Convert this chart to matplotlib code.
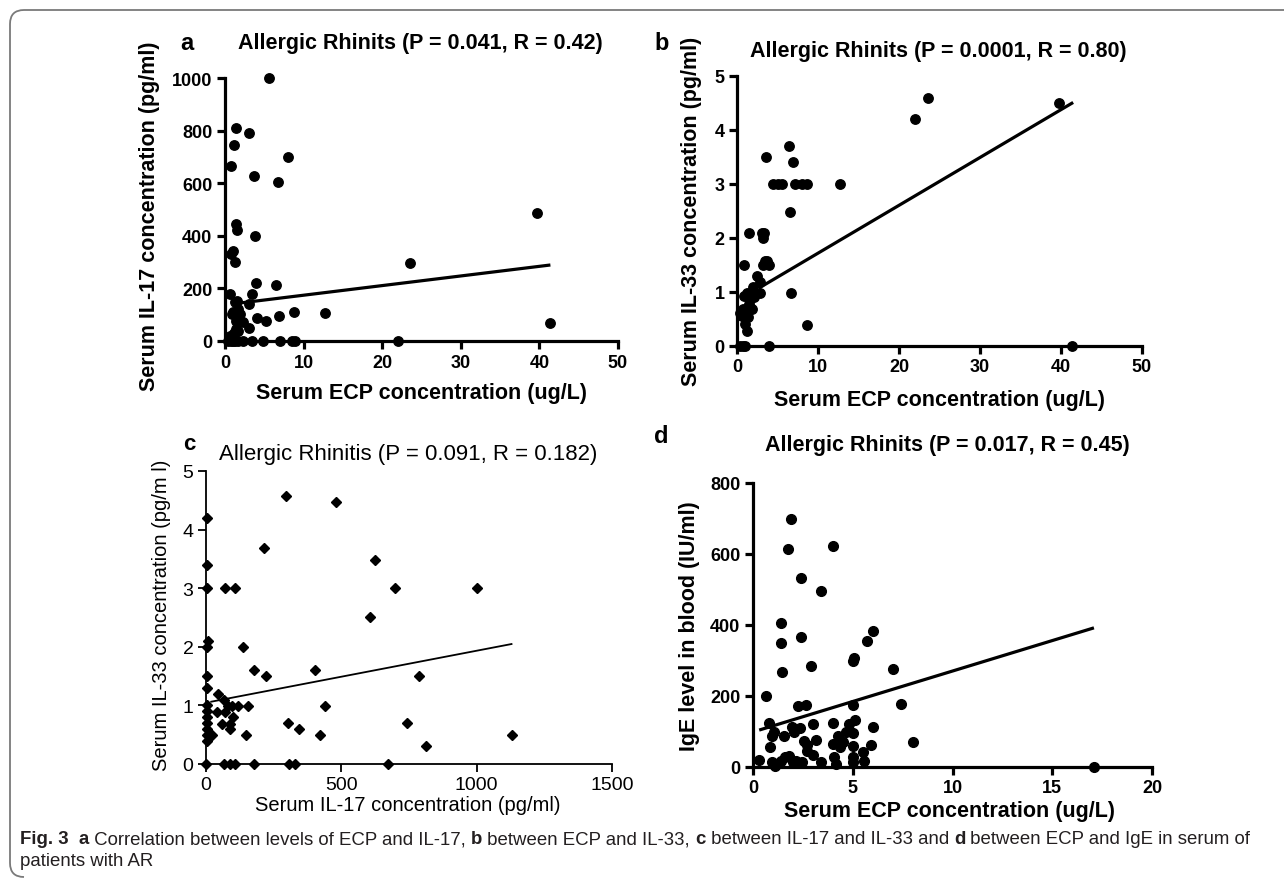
import numpy as np
import matplotlib.pyplot as plt
from matplotlib.path import Path
from matplotlib.patches import PathPatch

W, H = 1284, 879

# ---- panel a: serum ECP (ug/L) vs IL-17 (pg/ml)
a_ecp = [5.6, 1.4, 3.0, 1.1, 8.0, 0.7, 3.7, 6.8, 39.7, 1.35, 1.5, 3.8, 1.05, 0.75, 1.25, 23.6, 4.0, 6.5, 41.4,
         0.6, 3.4, 1.3, 1.0, 1.9, 2.3, 1.4, 3.1, 1.4, 1.1, 4.1, 5.2, 6.9, 8.8, 12.7, 1.5, 0.85, 1.7, 0.6, 1.6, 3.1,
         0.4, 0.7, 1.0, 1.3, 1.7, 2.3, 3.4, 4.8, 7.0, 8.5, 8.9, 22.0]
a_il17 = [1000, 811, 789, 745, 698, 666, 628, 605, 485, 444, 423, 401, 341, 330, 302, 298, 221, 212, 67,
          179, 179, 148, 110, 103, 72, 76, 49, 46, 30, 87, 76, 95, 110, 106, 152, 102, 120, 19, 38, 140,
          0, 0, 0, 0, 0, 0, 0, 0, 0, 0, 0, 0]
a_fit = (3.66, 137.5)          # slope, intercept
a_fit_x = (1.5, 41.4)

# ---- panel b: serum ECP vs IL-33 (pg/ml)
b_ecp = [23.6, 39.7, 22.0, 6.4, 6.9, 3.6, 4.5, 5.0, 5.5, 7.1, 8.0, 8.6, 12.7,
         6.6, 1.5, 3.05, 3.3, 3.25, 0.86, 3.46, 3.9, 3.2, 3.7, 2.43, 2.84, 2.0, 2.84, 6.7, 8.7,
         1.2, 1.7, 1.6, 1.8, 0.78, 0.58, 0.99, 1.4, 0.99, 1.2, 0.37, 1.5, 1.3, 0.9, 2.1, 1.0,
         0.4, 0.7, 1.0, 4.0, 41.4]
b_il33 = [4.59, 4.50, 4.20, 3.70, 3.40, 3.50, 3.0, 3.0, 3.0, 3.0, 3.0, 3.0, 3.0,
          2.49, 2.09, 2.09, 2.09, 2.0, 1.5, 1.58, 1.5, 1.5, 1.58, 1.29, 1.18, 1.09, 0.99, 0.99, 0.39,
          0.99, 0.98, 0.87, 0.69, 0.69, 0.56, 0.53, 0.53, 0.41, 0.28, 0.62, 0.78, 0.9, 0.92, 0.9, 0.6,
          0, 0, 0, 0, 0]
b_fit = (0.0886, 0.833)
b_fit_x = (2.67, 41.5)

# ---- panel c: serum IL-17 vs IL-33
c_il17 = [296, 480, 213, 625, 697, 1000, 605, 138, 178, 221, 401, 787, 1129, 813, 744, 440, 421, 303, 342,
          147, 154, 71, 108, 46, 42, 58, 68, 82, 88, 101, 95, 118, 22, 72, 88,
          5, 5, 5, 8, 5, 5, 5, 5, 5, 5, 5, 5, 5, 5,
          0, 66, 88, 108, 178, 305, 329, 671]
c_il33 = [4.57, 4.47, 3.69, 3.48, 3.0, 3.0, 2.51, 2.0, 1.6, 1.51, 1.6, 1.51, 0.5, 0.31, 0.70, 0.99, 0.5, 0.70, 0.60,
          0.5, 0.99, 3.0, 3.0, 1.2, 0.89, 0.68, 1.09, 0.99, 0.6, 0.8, 0.99, 0.99, 0.5, 0.89, 0.69,
          4.2, 3.4, 3.0, 2.1, 2.0, 1.5, 1.3, 1.0, 0.9, 0.8, 0.7, 0.6, 0.5, 0.4,
          0, 0, 0, 0, 0, 0, 0, 0]
c_fit = (0.000887, 1.046)
c_fit_x = (16, 1132)

# ---- panel d: serum ECP vs IgE (IU/ml)
d_ecp = [1.89, 1.76, 3.99, 2.39, 3.4, 1.38, 1.38, 2.39, 1.47, 2.9, 5.7, 6.0, 5.0, 5.07, 7.0, 0.67, 7.43,
         2.28, 2.68, 5.0, 0.79, 8.02, 6.03, 3.99, 3.0, 1.94, 2.37, 2.07, 4.82, 5.13, 1.04, 1.53, 0.94, 0.86,
         2.57, 2.7, 3.17, 3.99, 4.28, 4.5, 4.37, 4.68, 5.0, 5.0, 5.9, 5.49, 0.31, 0.94, 1.17, 1.4, 1.62, 1.8,
         2.16, 2.48, 2.7, 2.99, 3.42, 4.06, 4.14, 5.0, 5.0, 5.54, 1.98, 1.08, 17.09]
d_ige = [699, 614, 622, 532, 495, 407, 348, 365, 268, 285, 355, 384, 299, 306, 276, 201, 177,
         171, 174, 175, 124, 70, 112, 125, 121, 114, 111, 99, 122, 131, 99, 87, 86, 57,
         73, 61, 75, 66, 86, 71, 56, 99, 96, 58, 63, 41, 20, 13, 8, 18, 28, 31,
         18, 15, 45, 33, 15, 28, 8, 28, 13, 18, 13, 3, 0]
d_fit = (17.16, 98.7)
d_fit_x = (0.31, 17.09)

titles = ["Allergic Rhinits (P = 0.041, R = 0.42)",
          "Allergic Rhinits (P = 0.0001, R = 0.80)",
          "Allergic Rhinitis (P = 0.091, R = 0.182)",
          "Allergic Rhinits (P = 0.017, R = 0.45)"]

plt.rcParams['font.family'] = ['Liberation Sans', 'DejaVu Sans']

fig = plt.figure(figsize=(W / 100, H / 100), dpi=100)


def box(x0, x1, ybot, ytop):
    return [x0 / W, 1 - ybot / H, (x1 - x0) / W, (ybot - ytop) / H]


def ftext(x, y, s, **kw):
    return fig.text(x / W, 1 - y / H, s, ha='center', va='center', **kw)


def prism(ax, lw, weight, size):
    for s in ['top', 'right']:
        ax.spines[s].set_visible(False)
    for s in ['left', 'bottom']:
        ax.spines[s].set_linewidth(lw)
        ax.spines[s].set_capstyle('projecting')
    ax.tick_params(direction='out', length=6, width=lw, labelsize=size, pad=3)
    for lab in ax.get_xticklabels() + ax.get_yticklabels():
        lab.set_fontweight(weight)


def draw_fit(ax, fit, xr, lw):
    xs = np.array(xr)
    ax.plot(xs, fit[0] * xs + fit[1], color='black', lw=lw, solid_capstyle='butt')


# panel a
ax = fig.add_axes(box(225, 618, 342, 79))
ax.plot(a_ecp, a_il17, 'o', color='black', ms=6.8, clip_on=False, zorder=3)
draw_fit(ax, a_fit, a_fit_x, 2.3)
ax.set_xlim(0, 50)
ax.set_ylim(0, 1000)
ax.set_xticks(range(0, 51, 10))
ax.set_yticks(range(0, 1001, 200))
prism(ax, 2.3, 'bold', 13)
ftext(420, 43, titles[0], fontsize=15.5, fontweight='bold')
ftext(422, 394, "Serum ECP concentration (ug/L)", fontsize=15.5, fontweight='bold')
ftext(150, 216, "Serum IL-17 concentration (pg/ml)", fontsize=15.5, fontweight='bold', rotation=90)
ftext(187, 43, "a", fontsize=17, fontweight='bold')

# panel b
ax = fig.add_axes(box(737, 1142, 347, 77))
ax.plot(b_ecp, b_il33, 'o', color='black', ms=6.8, clip_on=False, zorder=3)
draw_fit(ax, b_fit, b_fit_x, 2.3)
ax.set_xlim(0, 50)
ax.set_ylim(0, 5)
ax.set_xticks(range(0, 51, 10))
ax.set_yticks(range(0, 6))
prism(ax, 2.3, 'bold', 13)
ftext(938, 51, titles[1], fontsize=15.5, fontweight='bold')
ftext(939, 401, "Serum ECP concentration (ug/L)", fontsize=15.5, fontweight='bold')
ftext(692, 211, "Serum IL-33 concentration (pg/ml)", fontsize=15.5, fontweight='bold', rotation=90)
ftext(662, 43, "b", fontsize=17, fontweight='bold')

# panel c
ax = fig.add_axes(box(206, 612, 765, 472))
ax.plot(c_il17, c_il33, 'D', color='black', ms=4.6, clip_on=False, zorder=3)
draw_fit(ax, c_fit, c_fit_x, 1.3)
ax.set_xlim(0, 1500)
ax.set_ylim(0, 5)
ax.set_xticks(range(0, 1501, 500))
ax.set_yticks(range(0, 6))
prism(ax, 1.3, 'normal', 14)
ftext(408, 455, titles[2], fontsize=16, fontweight='normal')
ftext(408, 806, "Serum IL-17 concentration (pg/ml)", fontsize=14.5)
ftext(162, 615, "Serum IL-33 concentration (pg/m l)", fontsize=14.5, rotation=90)
ftext(189, 445, "c", fontsize=16, fontweight='bold')

# panel d
ax = fig.add_axes(box(753, 1152, 768, 484))
ax.plot(d_ecp, d_ige, 'o', color='black', ms=7, clip_on=False, zorder=3)
draw_fit(ax, d_fit, d_fit_x, 2.3)
ax.set_xlim(0, 20)
ax.set_ylim(0, 800)
ax.set_xticks(range(0, 21, 5))
ax.set_yticks(range(0, 801, 200))
prism(ax, 2.3, 'bold', 13)
ftext(947, 446, titles[3], fontsize=15.5, fontweight='bold')
ftext(950, 812, "Serum ECP concentration (ug/L)", fontsize=15.5, fontweight='bold')
ftext(689, 626, "IgE level in blood (IU/ml)", fontsize=15.5, fontweight='bold', rotation=90)
ftext(661, 437, "d", fontsize=17, fontweight='bold')

# rounded frame (top and left edges)
pts = [(W, 11), (24, 11), (10, 11), (10, 25), (10, 864), (10, 878), (24, 878)]
codes = [Path.MOVETO, Path.LINETO, Path.CURVE3, Path.CURVE3, Path.LINETO, Path.CURVE3, Path.CURVE3]
frame = Path([(x / W, 1 - y / H) for x, y in pts], codes)
fig.patches.append(PathPatch(frame, transform=fig.transFigure, fill=False,
                             edgecolor='#7a7a7a', lw=1.3))

# caption with bold panel letters
capfam = ['Liberation Sans Narrow', 'Liberation Sans', 'DejaVu Sans']
line1 = [("Fig. 3", 'bold'), ("  ", 'normal'), ("a", 'bold'),
         (" Correlation between levels of ECP and IL-17, ", 'normal'), ("b", 'bold'),
         (" between ECP and IL-33, ", 'normal'), ("c", 'bold'),
         (" between IL-17 and IL-33 and ", 'normal'), ("d", 'bold'),
         (" between ECP and IgE in serum of", 'normal')]
line2 = "patients with AR"

fig.canvas.draw()
r = fig.canvas.get_renderer()


def seg_w(s, weight, size):
    t1 = fig.text(0, 0, 'X' + s + 'X', fontsize=size, fontweight=weight, family=capfam)
    t2 = fig.text(0, 0, 'XX', fontsize=size, fontweight=weight, family=capfam)
    w = t1.get_window_extent(r).width - t2.get_window_extent(r).width
    t1.remove()
    t2.remove()
    return w


base = 10.0
total = sum(seg_w(s, wgt, base) for s, wgt in line1)
size = base * (1258 - 20) / total
x = 20.0
for s, wgt in line1:
    fig.text(x / W, 1 - 840 / H, s, fontsize=size, fontweight=wgt, family=capfam,
             ha='left', va='center', color='#231f20')
    x += seg_w(s, wgt, size)
fig.text(20 / W, 1 - 862 / H, line2, fontsize=size, family=capfam,
         ha='left', va='center', color='#231f20')

fig.savefig('out.png', dpi=100)
